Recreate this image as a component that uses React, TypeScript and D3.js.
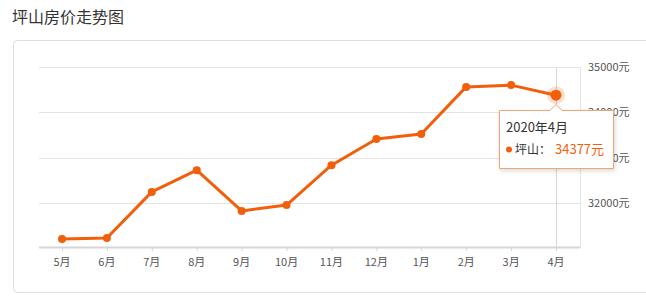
import React from "react";
import * as d3 from "d3";

const months = ["5月", "6月", "7月", "8月", "9月", "10月", "11月", "12月", "1月", "2月", "3月", "4月"];
const prices = [31200, 31220, 32240, 32720, 31820, 31950, 32830, 33410, 33520, 34560, 34600, 34377];
const yTicks = [32000, 33000, 34000, 35000];
const gridTicks = [31000, 32000, 33000, 34000, 35000];

const W = 646, H = 306;
const left = 39, right = 580, top = 67, bottom = 248;

export default function App() {
  const x = d3.scalePoint<string>().domain(months).range([62, 556]);
  const y = d3.scaleLinear().domain([31000, 35000]).range([bottom, top]);
  const line = d3.line<number>().x((_, i) => x(months[i])!).y(d => y(d));
  const color = "#f25f0a";
  const last = prices.length - 1;
  const lx = x(months[last])!, ly = y(prices[last]);
  const font = "'Microsoft YaHei', 'Noto Sans CJK SC', sans-serif";
  return (
    <svg width={W} height={H} style={{ position: "absolute", left: 0, top: 0, fontFamily: font }}>
      <defs>
        <filter id="sh" x="-20%" y="-20%" width="140%" height="150%">
          <feDropShadow dx="1" dy="2" stdDeviation="2" floodColor="#000" floodOpacity="0.15" />
        </filter>
      </defs>
      <rect width={W} height={H} fill="#fff" />
      <text x={12} y={23} fontSize={16} fill="#333">坪山房价走势图</text>
      <rect x={13.5} y={40.5} width={650} height={252} rx={4} fill="none" stroke="#ddd" />
      {gridTicks.slice(1).map(t => (
        <line key={t} x1={left} x2={right} y1={Math.round(y(t)) + 0.5} y2={Math.round(y(t)) + 0.5} stroke="#e3e3e3" />
      ))}
      <line x1={right + 0.5} x2={right + 0.5} y1={top} y2={bottom} stroke="#e3e3e3" />
      <line x1={lx + 0.5} x2={lx + 0.5} y1={top} y2={bottom} stroke="#d8d8d8" />
      <line x1={left} x2={right} y1={bottom - 0.5} y2={bottom - 0.5} stroke="#d5d5d5" strokeWidth={2} />
      {months.map(m => (
        <g key={m}>
          <line x1={x(m)! + 0.5} x2={x(m)! + 0.5} y1={bottom} y2={bottom + 3} stroke="#d5d5d5" />
          <text x={x(m)} y={266} textAnchor="middle" fontSize={11} fill="#555">{m}</text>
        </g>
      ))}
      {yTicks.map(t => (
        <text key={t} x={588} y={y(t) + 4} fontSize={11} fill="#555">{t}元</text>
      ))}
      <path d={line(prices)!} fill="none" stroke={color} strokeWidth={3} strokeLinejoin="round" />
      {prices.map((p, i) => (
        <circle key={i} cx={x(months[i])} cy={y(p)} r={4} fill={color} />
      ))}
      <circle cx={lx} cy={ly} r={9} fill={color} opacity={0.2} />
      <circle cx={lx} cy={ly} r={5.5} fill={color} />
      <g filter="url(#sh)">
        <path
          d={`M499.5,110.5 H${lx - 6} L${lx},104.5 L${lx + 6},110.5 H613.5 V168.5 H499.5 Z`}
          fill="#fff" stroke="#f3a474" strokeWidth={1}
        />
      </g>
      <text x={506} y={132} fontSize={13} fill="#333">2020年4月</text>
      <circle cx={509} cy={149.5} r={3} fill={color} />
      <text x={515} y={154} fontSize={12} fill="#333">坪山：</text>
      <text x={555} y={154} fontSize={13} fill={color}>{prices[last]}元</text>
    </svg>
  );
}
